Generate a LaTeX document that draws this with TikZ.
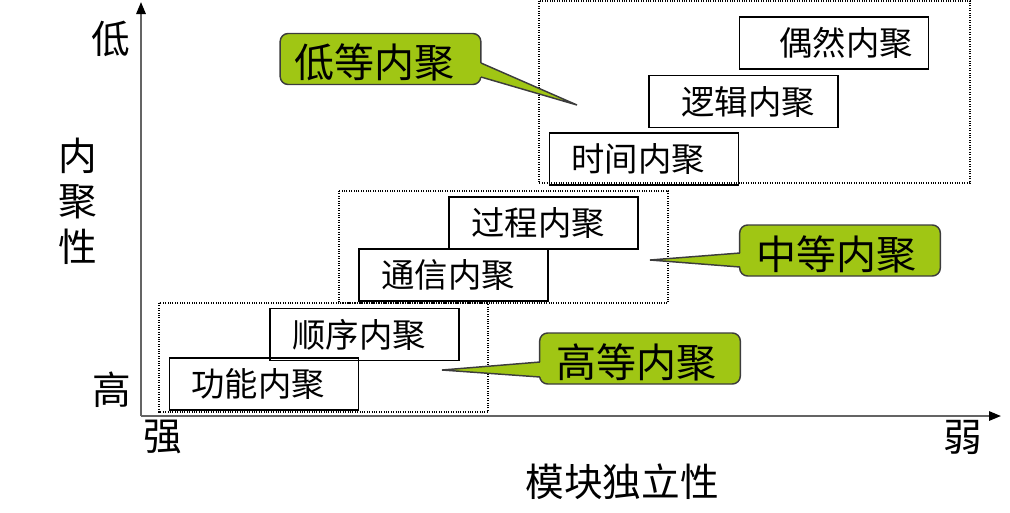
\documentclass[tikz,border=0pt]{standalone}
\usepackage{fontspec}
\setmainfont{Noto Sans CJK SC}
\usetikzlibrary{arrows.meta}
\definecolor{callgreen}{RGB}{160,198,20}
\definecolor{axisgray}{RGB}{100,100,100}
\definecolor{callborder}{RGB}{60,60,60}
\begin{document}
\begin{tikzpicture}[x=0.75pt,y=-0.75pt,
  cbox/.style={draw=black,line width=1pt,minimum width=141.75pt,minimum height=39pt,inner sep=0pt},
  boxtext/.style={font=\fontsize{25}{28}\selectfont,inner sep=0pt},
  grp/.style={draw=black,densely dotted,line width=0.8pt},
  callbox/.style={draw=callborder,fill=callgreen,line width=1.1pt,rounded corners=6pt,minimum width=150.5pt,minimum height=38.25pt,inner sep=0pt},
  calltext/.style={font=\fontsize{30}{34}\selectfont,inner sep=0pt},
  callptr/.style={fill=callgreen},
  calledge/.style={draw=callborder,line width=1.1pt,line join=miter},
  axis/.style={draw=axisgray,line width=1.5pt,-{Triangle[length=9pt,width=7pt,color=black]}},
  axlabel/.style={font=\fontsize{29}{34}\selectfont,inner sep=0pt}]
\useasboundingbox (0,0) rectangle (1010,512);
% group frames
\draw[grp] (539,1) rectangle (970,183);
\draw[grp] (339,191) rectangle (668,303);
\draw[grp] (159,303) rectangle (488,412);
% cohesion boxes
\node[cbox] (gn) at (264,384) {};
\node[boxtext] (gnt) at (258,384) {功能内聚};
\node[cbox] (sx) at (364.5,334.5) {};
\node[boxtext] (sxt) at (359,334.5) {顺序内聚};
\node[cbox] (tx) at (453.5,275) {};
\node[boxtext] (txt) at (448,275) {通信内聚};
\node[cbox] (gc) at (543.5,223) {};
\node[boxtext] (gct) at (538,223) {过程内聚};
\node[cbox] (sj) at (644,159) {};
\node[boxtext] (sjt) at (638,159) {时间内聚};
\node[cbox] (lj) at (743.5,101.5) {};
\node[boxtext] (ljt) at (748,101.5) {逻辑内聚};
\node[cbox] (or) at (834,43) {};
\node[boxtext] (ort) at (846,43) {偶然内聚};
% axes
\coordinate (origin) at (141,416);
\coordinate (ytip) at (141,2);
\coordinate (xtip) at (1001,416);
\draw[axis] (origin) -- (ytip);
\draw[axis] (origin) -- (xtip);
\node[axlabel] (low) at (111,39) {低};
\node[axlabel] (high) at (112,390) {高};
\node[axlabel,align=center] (coh) at (78,201) {内\\聚\\性};
\node[axlabel] (strong) at (163,437) {强};
\node[axlabel] (weak) at (963,437) {弱};
\node[axlabel] (indep) at (622,482) {模块独立性};
% callouts
\node[callbox] (lowc) at (380.5,59) {};
\node[calltext] (lowct) at (374,62) {低等内聚};
\coordinate (lowtip) at (577,105);
\fill[callptr] (472,63) -- (481,63) -- (lowtip) -- (481,77) -- (472,77) -- cycle;
\draw[calledge] (481,63) -- (lowtip) -- (481,77);
\node[callbox] (midc) at (840,250.5) {};
\node[calltext] (midct) at (836,254) {中等内聚};
\coordinate (midtip) at (650,260);
\fill[callptr] (749,253) -- (740,253) -- (midtip) -- (740,267) -- (749,267) -- cycle;
\draw[calledge] (740,253) -- (midtip) -- (740,267);
\node[callbox] (highc) at (640,358.5) {};
\node[calltext] (highct) at (636,362) {高等内聚};
\coordinate (hightip) at (442,370);
\fill[callptr] (549,362) -- (540,362) -- (hightip) -- (540,377) -- (549,377) -- cycle;
\draw[calledge] (540,362) -- (hightip) -- (540,377);
\end{tikzpicture}
\end{document}
